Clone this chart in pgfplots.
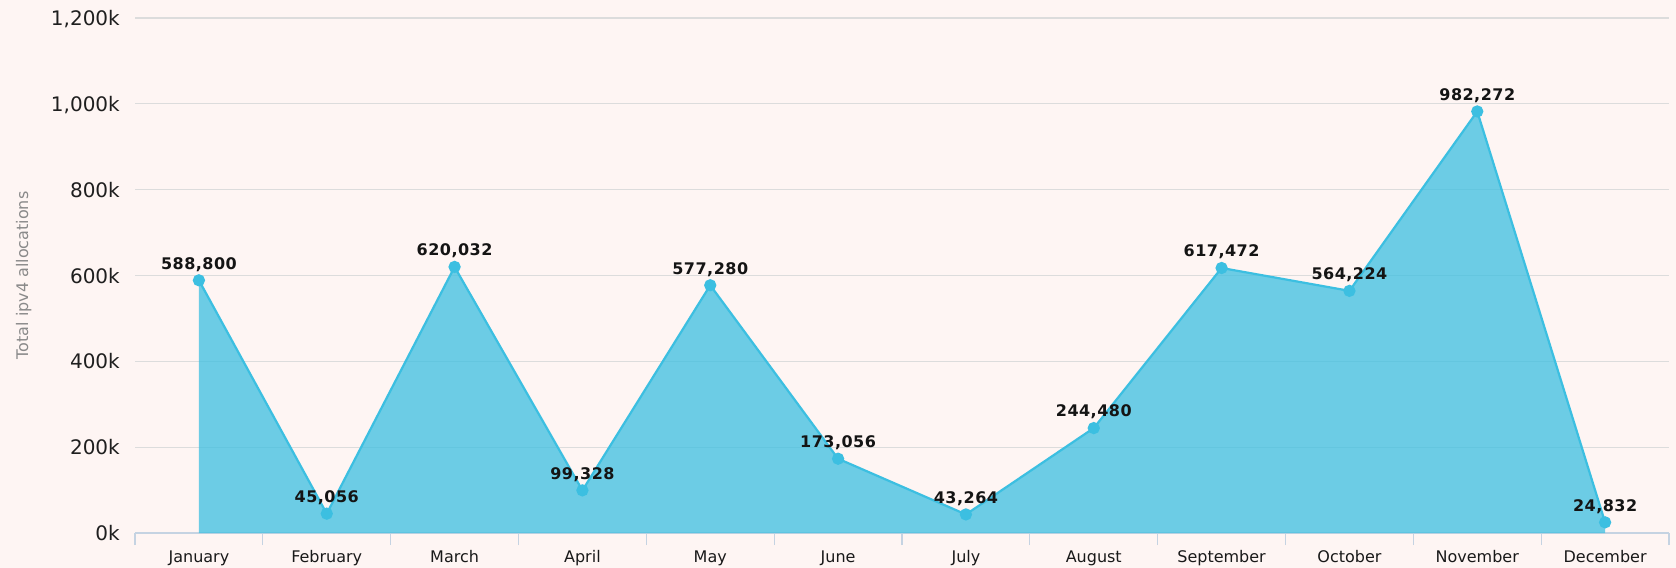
\documentclass[border=0pt]{standalone}
\usepackage{pgfplots}
\pgfplotsset{compat=1.18}
\usepackage{fontspec}
\setmainfont{DejaVu Sans}
\newfontfamily\lblfont[LetterSpace=3]{DejaVu Sans}
\definecolor{bgcol}{HTML}{FEF5F3}
\definecolor{linecol}{HTML}{3CBFE1}
\definecolor{gridcol}{HTML}{DCDCDC}
\definecolor{axiscol}{HTML}{C5D3E2}
\definecolor{labcol}{HTML}{8A8A8A}
\begin{document}
\begin{tikzpicture}
\fill[bgcol] (0,0) rectangle (1676bp,568bp);
\useasboundingbox (0,0) rectangle (1676bp,568bp);
\begin{axis}[
  at={(135bp,35bp)}, anchor=south west,
  scale only axis, width=1534bp, height=515bp,
  xmin=-0.5, xmax=11.5, ymin=0, ymax=1200000,
  clip=false,
  axis x line*=bottom, axis y line*=left,
  x axis line style={draw=axiscol, line width=1.2bp},
  y axis line style={draw=none},
  xtick={0,...,11},
  xticklabels={January,February,March,April,May,June,July,August,September,October,November,December},
  minor xtick={-0.5,0.5,...,11.5},
  major tick length=0pt,
  minor tick length=12bp,
  tick align=outside,
  every minor tick/.style={draw=axiscol, line width=1.2bp},
  xticklabel style={font=\fontsize{16bp}{19bp}\selectfont, text=black!90, anchor=base, yshift=-29bp, inner sep=0pt},
  ytick={0,200000,...,1200000},
  yticklabels={0k,200k,400k,600k,800k,{1,000k},{1,200k}},
  yticklabel style={font=\fontsize{20bp}{24bp}\selectfont, text=black!88, anchor=east, inner sep=0pt, xshift=-15bp, text depth=0pt},
  ymajorgrids, grid style={draw=gridcol, line width=1.2bp},
  ylabel={Total ipv4 allocations},
  ylabel style={at={(axis description cs:-0.0725,0.5)}, anchor=center, font=\fontsize{16bp}{19bp}\selectfont, text=labcol},
  scaled y ticks=false,
]
\addplot[draw=none, fill=linecol, fill opacity=0.75] coordinates {
(0,588800) (1,45056) (2,620032) (3,99328) (4,577280) (5,173056)
(6,43264) (7,244480) (8,617472) (9,564224) (10,982272) (11,24832)
} \closedcycle;
\addplot[draw=linecol, line width=2.2bp, mark=*, mark size=5bp,
  mark options={fill=linecol, draw=linecol},
  point meta=y,
  nodes near coords,
  nodes near coords style={font=\lblfont\bfseries\fontsize{16bp}{19bp}\selectfont, text=black!92, anchor=south, inner sep=0pt, yshift=10bp, text depth=0pt},
  /pgf/number format/.cd, fixed, precision=0, 1000 sep={,}, assume math mode=true,
] coordinates {
(0,588800) (1,45056) (2,620032) (3,99328) (4,577280) (5,173056)
(6,43264) (7,244480) (8,617472) (9,564224) (10,982272) (11,24832)
};
\end{axis}
\end{tikzpicture}
\end{document}
